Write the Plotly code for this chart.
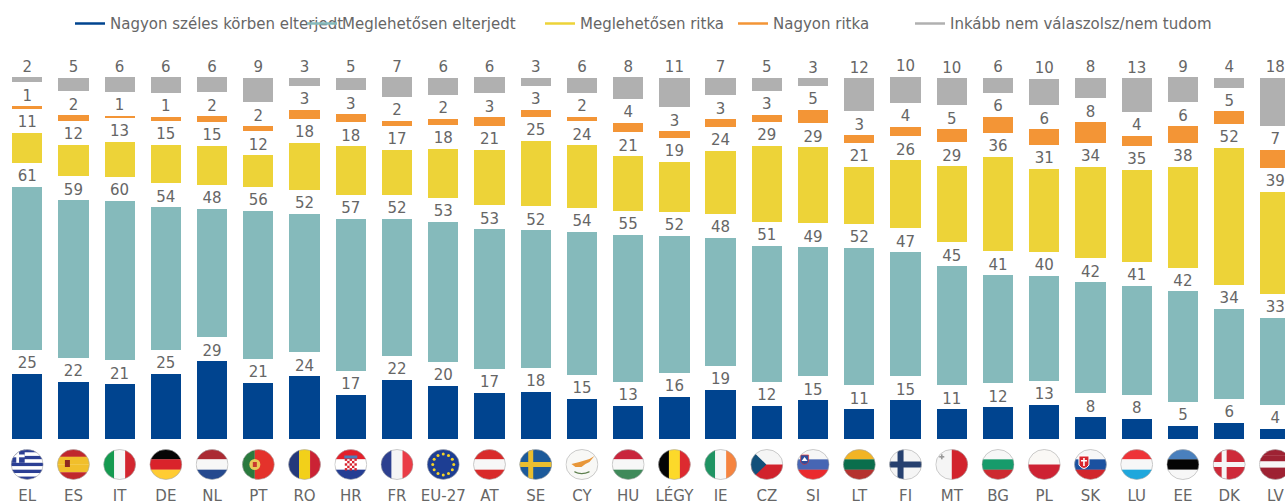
import base64
import math
import plotly.graph_objects as go

categories = ["EL", "ES", "IT", "DE", "NL", "PT", "RO", "HR", "FR", "EU-27", "AT", "SE", "CY", "HU",
              "LÉGY", "IE", "CZ", "SI", "LT", "FI", "MT", "BG", "PL", "SK", "LU", "EE", "DK", "LV"]

very_wide = [24.6, 21.6, 20.6, 24.6, 29.2, 21.1, 23.6, 16.7, 22.2, 20.1, 17.3, 17.8, 15.1, 12.6,
             15.9, 18.6, 12.4, 14.6, 11.2, 14.6, 11.2, 11.9, 12.8, 8.2, 7.7, 4.9, 6.0, 3.9]
fairly_wide = [61.2, 59.2, 60.1, 53.6, 48.4, 55.7, 52.1, 57.1, 51.6, 52.6, 52.6, 51.8, 53.8, 55.2,
               51.6, 48.1, 51.2, 48.6, 51.7, 46.6, 44.8, 40.7, 39.6, 41.7, 41.0, 41.6, 33.9, 32.6]
fairly_rare = [11.3, 12.0, 13.2, 14.6, 14.8, 12.0, 17.8, 18.3, 17.1, 18.4, 20.8, 24.6, 23.6, 20.6,
               18.7, 23.7, 28.7, 28.6, 21.4, 25.6, 28.6, 35.6, 31.2, 34.4, 34.6, 37.8, 51.7, 38.6]
very_rare = [1.0, 2.0, 0.6, 1.4, 2.0, 1.9, 3.4, 3.0, 1.8, 2.4, 3.3, 2.6, 1.6, 3.6,
             2.6, 2.9, 2.6, 5.0, 2.9, 3.6, 4.9, 6.0, 5.9, 7.9, 3.8, 6.3, 4.6, 6.6]
dont_know = [1.9, 5.1, 5.6, 5.9, 5.6, 9.2, 3.0, 4.8, 7.4, 6.4, 6.0, 3.0, 5.8, 8.0,
             11.0, 6.6, 4.9, 2.8, 12.4, 9.8, 10.2, 5.6, 9.9, 7.6, 12.6, 9.4, 3.6, 18.2]

series_names = ["Nagyon széles körben elterjedt", "Meglehetősen elterjedt", "Meglehetősen ritka",
                "Nagyon ritka", "Inkább nem válaszolsz/nem tudom"]
series_values = [very_wide, fairly_wide, fairly_rare, very_rare, dont_know]
series_colors = ["#00448F", "#85BABB", "#EDD338", "#F39536", "#B0B0B0"]
legend_widths = [187, 193, 148, 132, 275]
GAP = 9.03
LABEL_LIFT = 0.7
TEXT = "#666666"
FONT = "DejaVu Sans"

X_MIN, X_MAX = -0.588, 27.208
Y_MAX = 140.04
PLOT_H = 372


def hstripes(*cols):
    h = 31 / len(cols)
    return "".join(f'<rect x="0" y="{i*h}" width="33" height="{h+.2}" fill="{c}"/>' for i, c in enumerate(cols))


def vstripes(*cols):
    w = 33 / len(cols)
    return "".join(f'<rect x="{i*w}" y="0" width="{w+.2}" height="31" fill="{c}"/>' for i, c in enumerate(cols))


def rect(x, y, w, h, c):
    return f'<rect x="{x}" y="{y}" width="{w}" height="{h}" fill="{c}"/>'


def greece():
    s = hstripes(*(["#2B3F94", "#FFFFFF"] * 4 + ["#2B3F94"]))
    s += rect(0, 0, 14, 13.8, "#2B3F94") + rect(5.6, 0, 2.8, 13.8, "#fff") + rect(0, 5.5, 14, 2.8, "#fff")
    return s


def spain():
    return hstripes("#C0272D", "#F1BF2B", "#F1BF2B", "#C0272D") + rect(8, 11, 5, 7, "#8E2A20")


def portugal():
    return (rect(0, 0, 13, 31, "#2A7A3E") + rect(13, 0, 20, 31, "#E4322B") +
            '<circle cx="13" cy="15.5" r="5.5" fill="#E9C85A"/>' + rect(11, 13, 4, 5, "#C8382F"))


def croatia():
    s = hstripes("#E3202B", "#FFFFFF", "#253E93")
    for r in range(5):
        for c in range(5):
            if (r + c) % 2 == 0:
                s += rect(10.5 + c * 2.4, 9.5 + r * 2.4, 2.4, 2.4, "#D8232F")
    s += rect(10, 6.5, 13, 3, "#4E7DB8")
    return s


def europe():
    s = rect(0, 0, 33, 31, "#1D3E93")
    for k in range(12):
        a = k * math.pi / 6
        s += f'<circle cx="{16.5+10.5*math.sin(a):.2f}" cy="{15.5-10.5*math.cos(a):.2f}" r="1.5" fill="#F5D327"/>'
    return s


def sweden():
    return rect(0, 0, 33, 31, "#1C5A9A") + rect(9, 0, 5, 31, "#E9BE2F") + rect(0, 13, 33, 5, "#E9BE2F")


def cyprus():
    return (rect(0, 0, 33, 31, "#F8F8F6") +
            '<path d="M6 15 L14 13 L24 10 L29 7 L24 13 L20 15 L16 18 L10 18 Z" fill="#E8973A"/>' +
            '<path d="M9 22 Q16 26 24 22 L24 23.5 Q16 27 9 23.5 Z" fill="#5D7F4E"/>')


def czech():
    return (hstripes("#F5F5F5", "#D1222C") +
            '<path d="M0 0 L16 15.5 L0 31 Z" fill="#12507A"/>')


def slovenia():
    return (hstripes("#F6F6F6", "#4766B4", "#EA2A2E") +
            '<path d="M4 6 H12 V13 Q8 18 4 13 Z" fill="#2D4E9E" stroke="#E23A3A" stroke-width=".7"/>' +
            '<path d="M5 12 L8 8 L11 12 Z" fill="#fff"/>')


def finland():
    return rect(0, 0, 33, 31, "#F5F5F5") + rect(8.5, 0, 6, 31, "#26406F") + rect(0, 12.5, 33, 6, "#26406F")


def malta():
    return (vstripes("#F5F5F5", "#D2232D") + rect(4, 7, 5, 1.6, "#999") + rect(5.7, 5.3, 1.6, 5, "#999"))


def slovakia():
    return (hstripes("#F7F7F7", "#1B51A0", "#D1262D") +
            '<path d="M5 7 H15 V16 Q10 23 5 16 Z" fill="#D8262E" stroke="#fff" stroke-width="1"/>' +
            rect(9.2, 9, 1.6, 8, "#fff") + rect(7, 11, 6, 1.5, "#fff"))


def denmark():
    return rect(0, 0, 33, 31, "#CE2A39") + rect(9, 0, 5, 31, "#F5F5F5") + rect(0, 13, 33, 5, "#F5F5F5")


flag_art = {
    "EL": greece(), "ES": spain(), "IT": vstripes("#159A50", "#F7F7F7", "#D3262F"),
    "DE": hstripes("#050505", "#D9232B", "#FFCC33"), "NL": hstripes("#AB2A33", "#F7F7F7", "#25498E"),
    "PT": portugal(), "RO": vstripes("#24397B", "#F2D01A", "#CB2234"), "HR": croatia(),
    "FR": vstripes("#2D408F", "#F5F5F5", "#EA3C46"), "EU-27": europe(),
    "AT": hstripes("#D92B2B", "#F7F7F7", "#D92B2B"), "SE": sweden(), "CY": cyprus(),
    "HU": hstripes("#C9253C", "#F7F7F7", "#3F8A5A"), "LÉGY": vstripes("#050505", "#FCD92A", "#DD2A30"),
    "IE": vstripes("#1F9463", "#F7F7F7", "#F58440"), "CZ": czech(), "SI": slovenia(),
    "LT": hstripes("#F2B425", "#0A6E4C", "#B5322F"), "FI": finland(), "MT": malta(),
    "BG": hstripes("#F7F7F7", "#169B6B", "#CD2A30"), "PL": hstripes("#FAF8F5", "#CE2233"),
    "SK": slovakia(), "LU": hstripes("#EE3438", "#F7F7F7", "#1FA7DC"),
    "EE": hstripes("#4A80BD", "#050505", "#F7F7F7"), "DK": denmark(),
    "LV": hstripes("#9E2233", "#9E2233", "#F7F7F7", "#9E2233", "#9E2233"),
}


def flag_uri(art):
    svg = ('<svg xmlns="http://www.w3.org/2000/svg" viewBox="0 0 33 31" width="33" height="31" '
           'preserveAspectRatio="none"><defs><clipPath id="c"><ellipse cx="16.5" cy="15.5" rx="16" ry="15"/>'
           f'</clipPath></defs><g clip-path="url(#c)">{art}</g>'
           '<ellipse cx="16.5" cy="15.5" rx="16" ry="15" fill="none" stroke="#AAAAAA" stroke-width=".6"/></svg>')
    return "data:image/svg+xml;base64," + base64.b64encode(svg.encode()).decode()


fig = go.Figure()

# Stacked bars, with a transparent spacer between each segment that holds the value label.
for idx, (name, vals, col) in enumerate(zip(series_names, series_values, series_colors)):
    fig.add_bar(x=categories, y=vals, marker=dict(color=col, line_width=0), name=name,
                showlegend=False, hoverinfo="x+y")
    if idx < len(series_values) - 1:
        fig.add_bar(x=categories, y=[GAP] * len(categories), marker=dict(color="rgba(0,0,0,0)", line_width=0),
                    showlegend=False, hoverinfo="skip")

# Value labels sitting on top of each segment.
running = [0.0] * len(categories)
for idx, vals in enumerate(series_values):
    tops = [r + v for r, v in zip(running, vals)]
    fig.add_scatter(x=categories, y=[t + LABEL_LIFT for t in tops], mode="text",
                    text=[f"{v:.0f}" for v in vals],
                    textposition="top center", textfont=dict(size=15, color=TEXT, family=FONT),
                    showlegend=False, hoverinfo="skip", cliponaxis=False)
    running = [t + GAP for t in tops]

# Legend entries drawn as line keys.
for name, col, w in zip(series_names, series_colors, legend_widths):
    fig.add_scatter(x=[None], y=[None], mode="lines", name=name, line=dict(color=col, width=2.5),
                    legendwidth=w)

images = []
for i, c in enumerate(categories):
    images.append(dict(source=flag_uri(flag_art[c]), xref="paper", yref="paper",
                       x=(i - X_MIN) / (X_MAX - X_MIN), y=-10 / PLOT_H, sizex=33 / 1285, sizey=31 / PLOT_H,
                       xanchor="center", yanchor="top", sizing="stretch", layer="above"))

fig.update_layout(
    width=1285, height=504, barmode="stack", bargap=0.345,
    margin=dict(l=0, r=0, t=67, b=65, autoexpand=False),
    paper_bgcolor="white", plot_bgcolor="white",
    font=dict(family=FONT, color=TEXT, size=15),
    images=images,
    hovermode="closest",
    legend=dict(orientation="h", x=70 / 1285, xanchor="left", y=1.116, yanchor="middle",
                itemwidth=30, itemclick=False, font=dict(size=15, color=TEXT, family=FONT),
                traceorder="normal", bgcolor="rgba(0,0,0,0)"),
    xaxis=dict(type="category", categoryorder="array", categoryarray=categories, range=[X_MIN, X_MAX],
               showgrid=False, zeroline=False, showline=False, ticks="", ticklabelstandoff=46,
               tickfont=dict(size=15, color=TEXT, family=FONT), tickangle=0),
    yaxis=dict(visible=False, range=[0, Y_MAX]),
)

fig.write_html("out.html", post_script="document.body.style.margin='0';", config={"displayModeBar": False})
